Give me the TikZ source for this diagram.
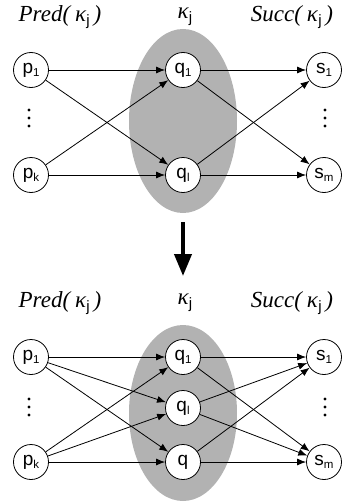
\documentclass[tikz,border=0pt]{standalone}
\usepackage{fontspec}
\setmainfont{Liberation Serif}
\newfontfamily\hv{Liberation Sans}
\usetikzlibrary{shapes.geometric,arrows.meta}
\begin{document}
\begin{tikzpicture}[x=1pt,y=-1pt,
  vnode/.style={circle,draw,fill=white,line width=0.8pt,minimum size=35pt,inner sep=0pt,font=\hv\fontsize{19}{19}\selectfont},
  edge/.style={-{Latex[length=9pt,width=7pt]},line width=0.8pt},
  title/.style={font=\fontsize{23}{23}\selectfont},
  blob/.style={fill=black!30,draw=none},
  dotmark/.style={fill=black,draw=none}]
\useasboundingbox (0,0) rectangle (352,503);
\newcommand{\sbs}[1]{\raisebox{-3.5pt}{\fontsize{11.5}{11.5}\selectfont #1}}
\newcommand{\kj}{\textit{κ}\raisebox{-4pt}{\hv\fontsize{15}{15}\selectfont j}}
% ---------- top ----------
\node[title] (t1) at (60,17) {\textit{Pred(}\,\kj\,\textit{)}};
\node[title] (t2) at (185,17) {\kj};
\node[title] (t3) at (292,17) {\textit{Succ(}\,\kj\,\textit{)}};
\fill[blob] (183,121) ellipse [x radius=54, y radius=92];
\node[vnode] (p1) at (31,70) {p\sbs{1}};
\node[vnode] (pk) at (31,175) {p\sbs{k}};
\node[vnode] (q1) at (183,70) {q\sbs{1}};
\node[vnode] (ql) at (183,175) {q\sbs{l}};
\node[vnode] (s1) at (324,70) {s\sbs{1}};
\node[vnode] (sm) at (324,175) {s\sbs{m}};
\foreach \x in {29,325}{\foreach \y in {110,118,126}{\fill[dotmark] (\x,\y) circle (1.7);}}
\draw[edge] (p1) -- (q1);
\draw[edge] (p1) -- (ql);
\draw[edge] (pk) -- (q1);
\draw[edge] (pk) -- (ql);
\draw[edge] (q1) -- (s1);
\draw[edge] (q1) -- (sm);
\draw[edge] (ql) -- (s1);
\draw[edge] (ql) -- (sm);
% ---------- arrow ----------
\coordinate (a0) at (183,222);
\coordinate (a1) at (183,276);
\draw[line width=4pt,-{Triangle[length=22pt,width=17pt]}] (a0) -- (a1);
% ---------- bottom ----------
\node[title] (b1) at (60,303) {\textit{Pred(}\,\kj\,\textit{)}};
\node[title] (b2) at (185,303) {\kj};
\node[title] (b3) at (292,303) {\textit{Succ(}\,\kj\,\textit{)}};
\fill[blob] (183,413) ellipse [x radius=54, y radius=88];
\node[vnode] (P1) at (31,357) {p\sbs{1}};
\node[vnode] (Pk) at (31,462) {p\sbs{k}};
\node[vnode] (Q1) at (183,357) {q\sbs{1}};
\node[vnode] (Ql) at (183,408) {q\sbs{l}};
\node[vnode] (Q) at (183,462) {q};
\node[vnode] (S1) at (324,357) {s\sbs{1}};
\node[vnode] (Sm) at (324,462) {s\sbs{m}};
\foreach \x in {29,325}{\foreach \y in {399,407,415}{\fill[dotmark] (\x,\y) circle (1.7);}}
\foreach \a in {P1,Pk}{\foreach \b in {Q1,Ql,Q}{\draw[edge] (\a) -- (\b);}}
\foreach \a in {Q1,Ql,Q}{\foreach \b in {S1,Sm}{\draw[edge] (\a) -- (\b);}}
\end{tikzpicture}
\end{document}
